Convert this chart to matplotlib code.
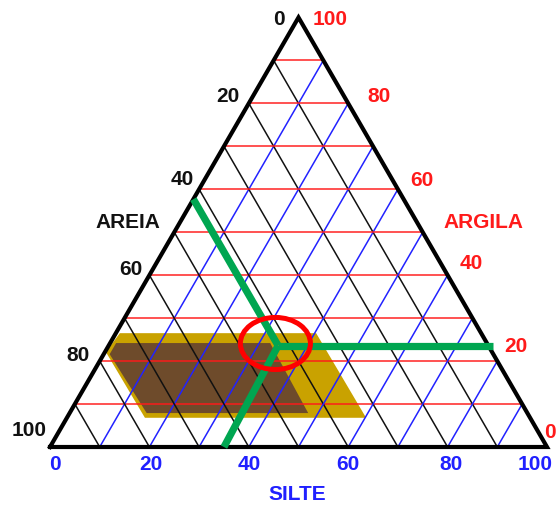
import numpy as np
import matplotlib
matplotlib.use('Agg')
import matplotlib.pyplot as plt
from matplotlib.patches import Polygon, Ellipse

plt.rcParams['font.family'] = ['Liberation Sans', 'DejaVu Sans']

# ---------------- data ----------------
sand_ticks = [0, 20, 40, 60, 80, 100]
sand_labels = ['0', '20', '40', '60', '80', '100']
clay_ticks = [100, 80, 60, 40, 20, 0]
clay_labels = ['100', '80', '60', '40', '20', '0']
silt_ticks = [0, 20, 40, 60, 80, 100]
silt_labels = ['0', '20', '40', '60', '80', '100']
grid_levels = [10, 20, 30, 40, 50, 60, 70, 80, 90]

axis_titles = ['AREIA', 'ARGILA', 'SILTE']

# regions as (sand, silt, clay)
gold_region = [(72.7, 0.8, 26.5), (33.2, 40.3, 26.5), (33.0, 60.2, 6.8),
               (77.5, 15.7, 6.8), (77.7, 0.2, 22.1)]
brown_region = [(74.6, 1.2, 24.2), (43.6, 32.2, 24.2), (44.1, 48.0, 7.9),
                (76.6, 15.5, 7.9), (77.2, 1.2, 21.6)]

# sample point and its reading lines (sand, silt, clay)
sample_point = (42.3, 34.1, 23.6)
green_ends = [(42.3, 0.0, 57.7), (-1.0, 77.4, 23.6), (65.0, 35.0, 0.0)]
ellipse_center = (42.6, 33.3, 24.1)

# ---------------- helpers ----------------
H = np.sqrt(3) / 2


def tern(sand, silt, clay):
    return silt + clay / 2.0, clay * H


PXX = 4.97   # pixels per unit in x
PXY = 4.96   # pixels per unit in y
X0PIX, Y0PIX = 50.0, 447.0
W, Hpx = 557, 508

fig = plt.figure(figsize=(W / 100, Hpx / 100), dpi=100)
ax = fig.add_axes([0, 0, 1, 1])
ax.set_xlim(-X0PIX / PXX, (W - X0PIX) / PXX)
ax.set_ylim(-(Hpx - Y0PIX) / PXY, Y0PIX / PXY)
ax.axis('off')


def pix(px, py):
    return (px - X0PIX) / PXX, (Y0PIX - py) / PXY


# regions
ax.add_patch(Polygon([tern(*p) for p in gold_region], closed=True,
                     facecolor='#C9A200', edgecolor='none', zorder=1))
ax.add_patch(Polygon([tern(*p) for p in brown_region], closed=True,
                     facecolor='#6E4B2B', edgecolor='none', zorder=1.5))

# grid
for v in grid_levels:
    # constant clay (red, horizontal)
    a = tern(100 - v, 0, v); b = tern(0, 100 - v, v)
    ax.plot([a[0], b[0]], [a[1], b[1]], color='#FF1A1A', lw=1.25, zorder=2, alpha=0.85)
    # constant sand (black)
    a = tern(v, 0, 100 - v); b = tern(v, 100 - v, 0)
    ax.plot([a[0], b[0]], [a[1], b[1]], color='#111111', lw=1.1, zorder=2)
    # constant silt (blue)
    a = tern(100 - v, v, 0); b = tern(0, v, 100 - v)
    ax.plot([a[0], b[0]], [a[1], b[1]], color='#2222FF', lw=1.1, zorder=2)

# triangle outline
tri = [tern(100, 0, 0), tern(0, 100, 0), tern(0, 0, 100), tern(100, 0, 0)]
ax.plot([p[0] for p in tri], [p[1] for p in tri], color='black', lw=3.0,
        zorder=3, solid_joinstyle='miter')

# green reading lines
c = tern(*sample_point)
for e in green_ends:
    q = tern(*e)
    ax.plot([c[0], q[0]], [c[1], q[1]], color='#00A651', lw=5.2, zorder=4,
            solid_capstyle='butt')

# red ellipse
ec = tern(*ellipse_center)
ax.add_patch(Ellipse(ec, width=14.1, height=10.5, facecolor='none',
                     edgecolor='#FF0000', lw=3.6, zorder=5))

fs = 15
# sand labels (left edge)
sand_off = [(-20, 2), (-21, -7), (-17, -10), (-19, -6), (-22, -6), (-21, -17)]
for t, lab, off in zip(sand_ticks, sand_labels, sand_off):
    p = tern(t, 0, 100 - t)
    ax.annotate(lab, p, xytext=(off[0], -off[1]), textcoords='offset pixels',
                ha='center', va='center', fontsize=fs, fontweight='bold',
                color='#111111')

# clay labels (right edge)
clay_off = [(32, 2), (31, -7), (24, -9), (24, -12), (19, -15), (3, -15)]
for t, lab, off in zip(clay_ticks, clay_labels, clay_off):
    p = tern(0, 100 - t, t)
    ax.annotate(lab, p, xytext=(off[0], -off[1]), textcoords='offset pixels',
                ha='center', va='center', fontsize=fs, fontweight='bold',
                color='#FF1A1A')

# silt labels (base)
silt_off = [5, 1, 0, 0, 3, -12]
for t, lab, dx in zip(silt_ticks, silt_labels, silt_off):
    p = tern(100 - t, t, 0)
    ax.annotate(lab, p, xytext=(dx, -17), textcoords='offset pixels',
                ha='center', va='center', fontsize=fs, fontweight='bold',
                color='#2020FF')

# axis titles
ax.text(*pix(128, 223), axis_titles[0], ha='center', va='center', fontsize=fs,
        fontweight='bold', color='#111111')
ax.text(*pix(483.5, 222), axis_titles[1], ha='center', va='center', fontsize=fs,
        fontweight='bold', color='#FF1A1A')
ax.text(*pix(297, 494), axis_titles[2], ha='center', va='center', fontsize=fs,
        fontweight='bold', color='#2020FF')

fig.savefig('out.png', dpi=100, facecolor='white')
